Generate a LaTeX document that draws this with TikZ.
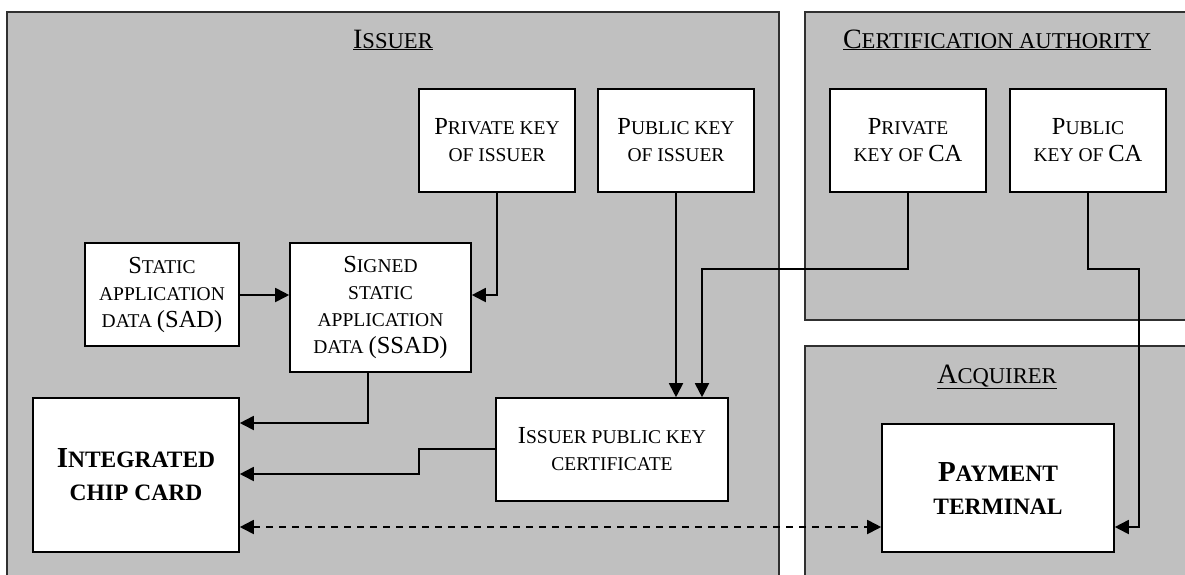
\documentclass[tikz,border=0pt]{standalone}
\usepackage{fontspec}
\setmainfont{Liberation Serif}
\usetikzlibrary{arrows.meta}
\definecolor{panelgray}{HTML}{C0C0C0}
\definecolor{panelline}{HTML}{303030}
% larger capital used for the first letter of a small-caps word
\newcommand\Cap[1]{{\fontsize{24.5}{27}\selectfont #1}}
\newcommand\BCap[1]{{\fontsize{29}{33}\selectfont #1}}
\newcommand\TCap[1]{{\fontsize{28}{30}\selectfont #1}}
\newcommand\PanelTitle[2]{\underline{\TCap{#1}#2}}
\begin{document}
\begin{tikzpicture}[x=1pt,y=-1pt,
  panel/.style={fill=panelgray,draw=panelline,line width=1.2pt},
  box/.style={draw=black,fill=white,line width=1.6pt,inner sep=0pt,align=center,
    font=\fontsize{19.5}{27}\selectfont},
  keybox/.style={box,minimum width=156pt,minimum height=103pt},
  bigbox/.style={box,font=\bfseries\fontsize{23.5}{33}\selectfont},
  ttl/.style={inner sep=0pt,anchor=base,font=\fontsize{22.6}{27}\selectfont},
  conn/.style={line width=1.8pt,-{Triangle[length=14pt,width=14pt]}},
  dconn/.style={line width=1.8pt,dash pattern=on 7pt off 6pt,
    {Triangle[length=14pt,width=14pt]}-{Triangle[length=14pt,width=14pt]}}]
\useasboundingbox (0,0) rectangle (1185,574);
\clip (0,0) rectangle (1185,574);

% organisation panels
\draw[panel] (7,12) rectangle (779,590);
\draw[panel] (805,12) rectangle (1195,320);
\draw[panel] (805,346) rectangle (1195,590);
\node[ttl] (tIssuer) at (393,48) {\PanelTitle{I}{SSUER}};
\node[ttl] (tCA) at (997,48) {\PanelTitle{C}{ERTIFICATION AUTHORITY}};
\node[ttl] (tAcq) at (997,383) {\PanelTitle{A}{CQUIRER}};

% key and data boxes
\node[keybox] (privI) at (497,140.5) {\Cap{P}RIVATE KEY\\OF ISSUER};
\node[keybox] (pubI) at (676,140.5) {\Cap{P}UBLIC KEY\\OF ISSUER};
\node[keybox] (privCA) at (908,140.5) {\Cap{P}RIVATE\\KEY OF \Cap{CA}};
\node[keybox] (pubCA) at (1088,140.5) {\Cap{P}UBLIC\\KEY OF \Cap{CA}};
\node[box,minimum width=154pt,minimum height=103pt] (sad) at (162,294.5)
  {\Cap{S}TATIC\\APPLICATION\\DATA \Cap{(SAD)}};
\node[box,minimum width=181pt,minimum height=129pt] (ssad) at (380.5,307.5)
  {\Cap{S}IGNED\\STATIC\\APPLICATION\\DATA \Cap{(SSAD)}};
\node[box,minimum width=232pt,minimum height=103pt] (cert) at (612,449.5)
  {\Cap{I}SSUER PUBLIC KEY\\CERTIFICATE};
\node[bigbox,minimum width=206pt,minimum height=154pt] (icc) at (136,475)
  {\BCap{I}NTEGRATED\\CHIP CARD};
\node[bigbox,minimum width=232pt,minimum height=128pt] (term) at (998,488)
  {\BCap{P}AYMENT\\TERMINAL};

% bend points of the routed connectors
\coordinate (kSig) at (0,295);
\coordinate (kCA) at (702,269);
\coordinate (kPub) at (1139,269);
\coordinate (kCertOut) at (0,449);
\coordinate (kCert) at (419,474);
\coordinate (kSsad) at (368,423);
\coordinate (kLink) at (0,527);

% connectors
\draw[conn] (kSig -| sad.east) -- (kSig -| ssad.west);
\draw[conn] (privI.south) |- (kSig -| ssad.east);
\draw[conn] (pubI.south) -- (pubI.south |- cert.north);
\draw[conn] (privCA.south) |- (kCA) -- (kCA |- cert.north);
\draw[conn] (kSsad |- ssad.south) |- (kSsad -| icc.east);
\draw[conn] (kCertOut -| cert.west) -| (kCert) -- (kCert -| icc.east);
\draw[conn] (pubCA.south) |- (kPub) |- (kLink -| term.east);
\draw[dconn] (kLink -| icc.east) -- (kLink -| term.west);
\end{tikzpicture}
\end{document}
